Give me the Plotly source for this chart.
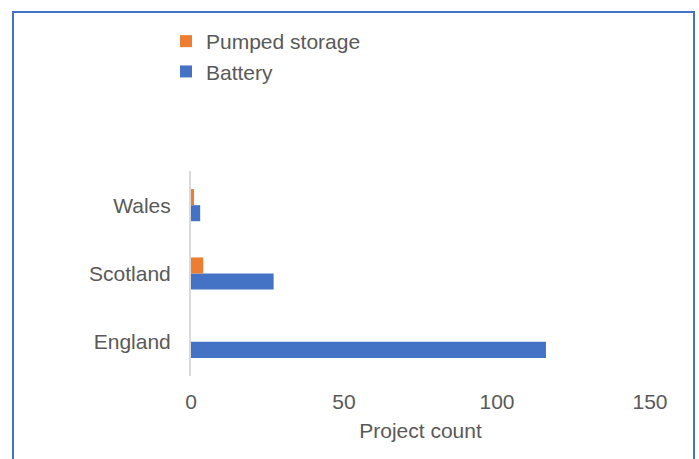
import plotly.graph_objects as go

regions = ["England", "Scotland", "Wales"]
battery = [116, 27, 3]
pumped = [0, 4, 1]
x_ticks = [0, 50, 100, 150]

FONT = "Liberation Sans, Arial, sans-serif"
GREY = "#595959"

fig = go.Figure()
fig.add_trace(go.Bar(y=regions, x=battery, name="Battery", orientation="h",
                     marker=dict(color="#4472C4", line=dict(width=0))))
fig.add_trace(go.Bar(y=regions, x=pumped, name="Pumped storage", orientation="h",
                     marker=dict(color="#ED7D31", line=dict(width=0))))

fig.update_layout(
    width=699, height=459,
    margin=dict(l=191, r=49, t=171, b=83),
    paper_bgcolor="white", plot_bgcolor="white",
    barmode="group", bargap=0.53, bargroupgap=0,
    font=dict(family=FONT, size=21, color=GREY),
    showlegend=True,
    legend=dict(x=(166 - 191) / 459, xref="paper", y=1 + (171 - 21) / 205, yanchor="top",
                xanchor="left", traceorder="reversed",
                font=dict(size=21, color=GREY), bgcolor="rgba(0,0,0,0)"),
    xaxis=dict(range=[0, 150], tickvals=x_ticks, showgrid=False, zeroline=False,
               showline=False, ticks="", ticklabelstandoff=11,
               title=dict(text="Project count", standoff=11, font=dict(size=21, color=GREY))),
    yaxis=dict(range=[-0.5, 2.5], showgrid=False, zeroline=False, showline=True,
               linecolor="#D9D9D9", linewidth=2, ticks="", ticklabelstandoff=14),
    shapes=[dict(type="rect", xref="paper", yref="paper",
                 x0=-178 / 459, x1=1 + 44 / 459, y0=-0.6, y1=1 + 159 / 205,
                 line=dict(color="#4472C4", width=2), fillcolor="rgba(0,0,0,0)", layer="below")],
)
fig.write_html("out.html")
